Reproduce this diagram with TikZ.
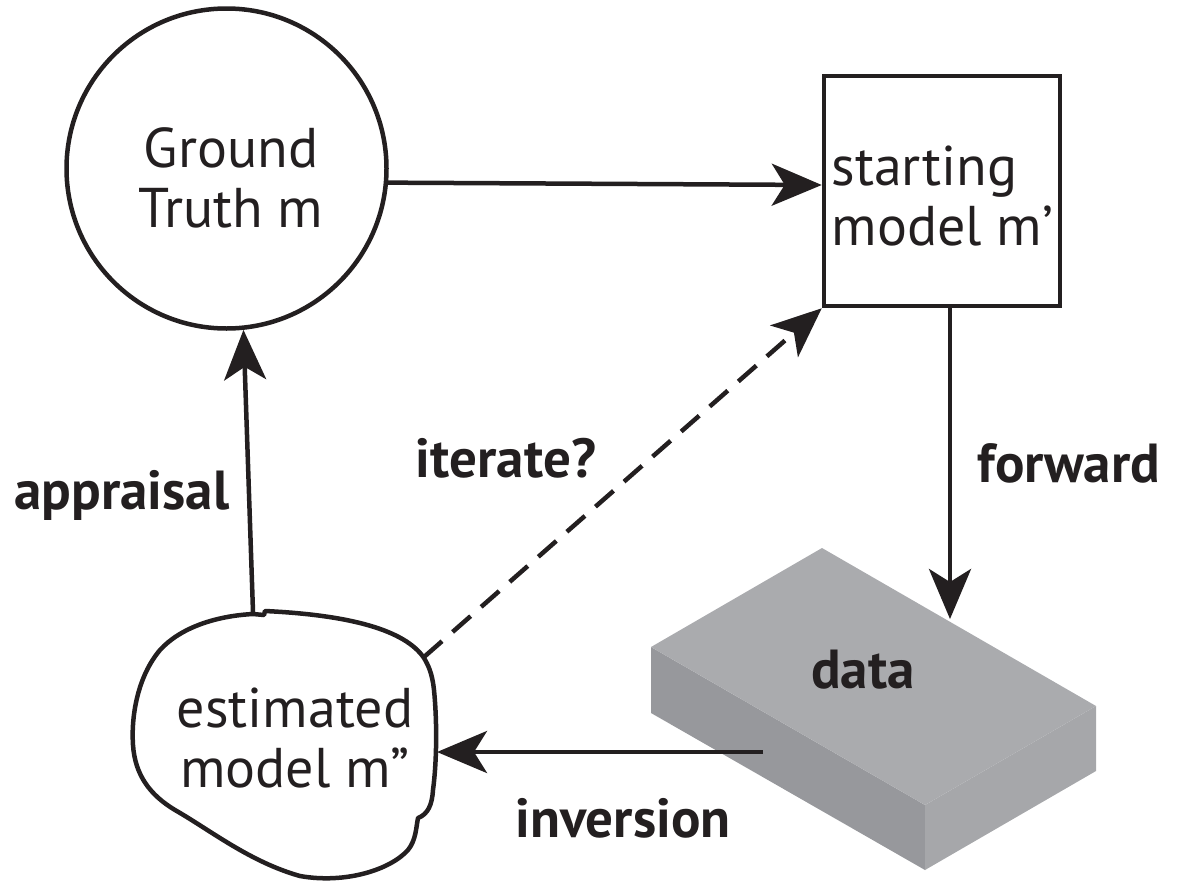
\documentclass[tikz,border=0pt]{standalone}
\usepackage{fontspec}
\setmainfont{PT Sans}
\usetikzlibrary{arrows.meta,calc}
\definecolor{ink}{HTML}{231F20}
\definecolor{topface}{HTML}{AAABAE}
\definecolor{leftface}{HTML}{97989C}
\definecolor{rightface}{HTML}{A6A7AA}
\tikzset{
  conn/.style={draw=ink, line width=4.5pt,
    -{Stealth[length=50pt,width=42pt,inset=13pt]}},
  shapeline/.style={draw=ink, line width=4.5pt},
  body/.style={text=ink, font=\fontsize{56}{60}\selectfont, align=center},
  label/.style={text=ink, font=\fontsize{55}{60}\selectfont\bfseries},
}
\begin{document}
\begin{tikzpicture}[x=1pt,y=-1pt]
\useasboundingbox (0,0) rectangle (1177,881);

% ground truth circle
\node[circle, shapeline, minimum size=320pt, inner sep=0pt] (gt) at (226.5,168.5) {};
\node[body] (gttext) at (231,178) {Ground\\Truth m};

% starting model square
\node[rectangle, shapeline, minimum width=236pt, minimum height=230pt, inner sep=0pt] (sq) at (942,191) {};
\node[body, align=left, anchor=west] (sqtext) at (828,196) {starting\\model m’};

% data slab
\coordinate (dT) at (822,548);
\coordinate (dL) at (651,647);
\coordinate (dR) at (1096,706);
\coordinate (dF) at (925,805);
\fill[leftface] (dL) -- (dF) -- ($(dF)+(0,65)$) -- ($(dL)+(0,66)$) -- cycle;
\fill[rightface] (dF) -- (dR) -- ($(dR)+(0,65)$) -- ($(dF)+(0,65)$) -- cycle;
\fill[topface] (dT) -- (dR) -- (dF) -- (dL) -- cycle;
\node[label] (datatext) at (863,670) {data};

% estimated model blob
\draw[shapeline, line join=round]
  (253,614) .. controls (215,616) and (180,628) .. (160,650)
  .. controls (138,676) and (131,715) .. (133,745)
  .. controls (135,775) and (150,795) .. (175,810)
  .. controls (210,830) and (250,862) .. (300,876)
  .. controls (345,884) and (390,870) .. (408,850)
  .. controls (416,840) and (416,828) .. (418,818)
  .. controls (428,814) and (432,805) .. (433,790)
  .. controls (437,760) and (437,720) .. (434,690)
  .. controls (432,672) and (428,665) .. (424,658)
  .. controls (405,630) and (350,615) .. (265,611)
  -- (264,615) -- cycle;
\coordinate (blobtop) at (253,612);
\coordinate (blobne) at (424,657);
\coordinate (blobright) at (437,752);
\node[body] (esttext) at (295,738) {estimated\\model m”};

% connectors
\coordinate (invstart) at (763,752);
\coordinate (fwdstart) at ([xshift=8pt]sq.south);
\coordinate (fwdend) at (950,619);
\draw[conn] (gt.-5) -- ([yshift=6pt]sq.west);
\draw[conn] (fwdstart) -- (fwdend);
\draw[conn] (invstart) -- (blobright);
\draw[conn] (blobtop) -- (gt.-84);
\draw[conn, dash pattern=on 24pt off 14pt] (blobne) -- (sq.south west);

% labels
\node[label] (lapp) at (122,495) {appraisal};
\node[label] (liter) at (506,458) {iterate?};
\node[label] (lfwd) at (1069,463) {forward};
\node[label] (linv) at (623,818) {inversion};
\end{tikzpicture}
\end{document}
